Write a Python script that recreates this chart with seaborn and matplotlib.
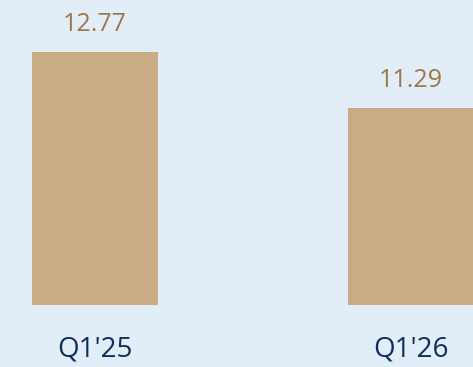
import matplotlib
matplotlib.use("Agg")
import matplotlib.pyplot as plt
import seaborn as sns
import pandas as pd

categories = ["Q1'25", "Q1'26"]
values = [12.77, 11.29]
value_labels = ["12.77", "11.29"]

BG = "#E1EEF7"
BAR = "#C9AC84"
VAL = "#9E7848"
CAT = "#0E2D5A"

sns.set_theme(style="white")
plt.rcParams['font.family'] = ['Open Sans', 'DejaVu Sans']

df = pd.DataFrame({"cat": categories, "val": values})

fig = plt.figure(figsize=(4.73, 3.67), dpi=100, facecolor=BG)
ax = fig.add_axes([0, 62/367, 1, 1 - 62/367])
ax.set_facecolor(BG)
sns.barplot(data=df, x="cat", y="val", color=BAR, width=126/316, saturation=1,
            linewidth=0, edgecolor="none", ax=ax)
ax.set_xlim(-95/316, 1 + 62/316)
ax.set_ylim(6.08, 14.15)
for s in ax.spines.values():
    s.set_visible(False)
ax.set_yticks([])
ax.set_xlabel("")
ax.set_ylabel("")
ax.tick_params(axis="x", length=0, pad=22, labelsize=20, labelcolor=CAT)
for i, (v, lab) in enumerate(zip(values, value_labels)):
    ax.annotate(lab, (i, v), xytext=(0, 20), textcoords="offset points",
                ha="center", va="center", fontsize=18, color=VAL)
fig.savefig("out.png", dpi=100, facecolor=BG)
